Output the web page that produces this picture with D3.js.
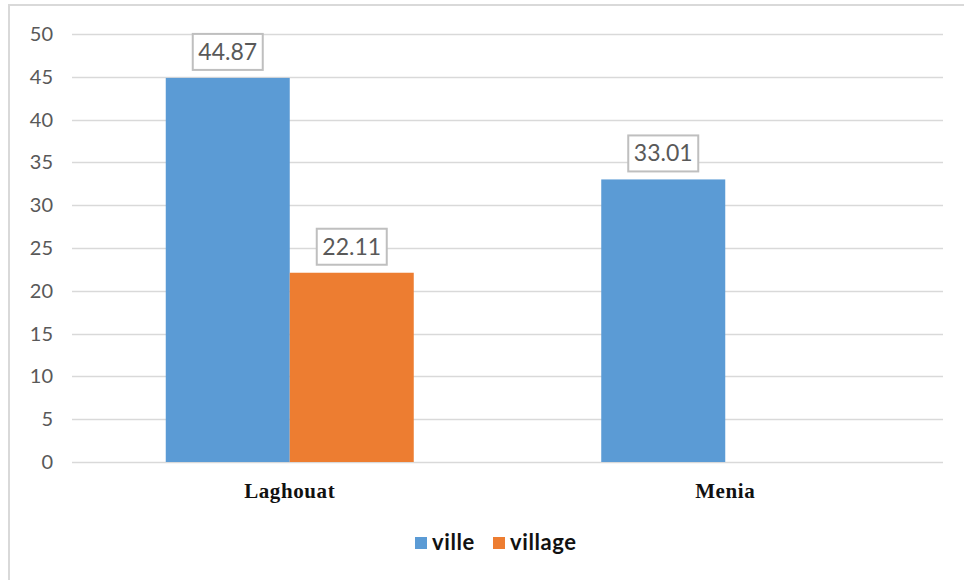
<!DOCTYPE html>
<html>
<head>
<meta charset="utf-8">
<script src="https://cdn.jsdelivr.net/npm/d3@7/dist/d3.min.js"></script>
<style>
  html, body { margin: 0; padding: 0; background: #fff; }
  svg { display: block; }
</style>
</head>
<body>
<svg id="chart" width="964" height="580"></svg>
<script>
// Chart data
const categories = ["Laghouat", "Menia"];
const seriesNames = ["ville", "village"];
const villeValues = [44.87, 33.01];
const villageValues = [22.11, null];
const yTicks = [0, 5, 10, 15, 20, 25, 30, 35, 40, 45, 50];
const seriesColors = ["#5b9bd5", "#ed7d31"];

const svg = d3.select("#chart");
const W = 964, H = 580;
const plot = { left: 72, right: 943, top: 34, bottom: 462 };

// Outer frame (top and left edges visible)
svg.append("path")
  .attr("d", `M9,${H} L9,5 L${W},5`)
  .attr("fill", "none")
  .attr("stroke", "#d9d9d9")
  .attr("stroke-width", 2);

const x0 = d3.scaleBand().domain(categories).range([plot.left, plot.right]).paddingInner(0).paddingOuter(0);
const groupW = 248;
const x1 = d3.scaleBand().domain(seriesNames).range([0, groupW]).padding(0);
const y = d3.scaleLinear().domain([0, 50]).range([plot.bottom, plot.top]);

// Gridlines
svg.append("g")
  .selectAll("line")
  .data(yTicks)
  .join("line")
  .attr("x1", plot.left).attr("x2", plot.right)
  .attr("y1", d => Math.round(y(d)) + 0.5).attr("y2", d => Math.round(y(d)) + 0.5)
  .attr("stroke", "#d9d9d9")
  .attr("stroke-width", 1.3);

// Y axis labels
const yAxis = d3.axisLeft(y).tickValues(yTicks).tickSize(0).tickPadding(0);
const yG = svg.append("g").attr("transform", `translate(53,0)`).call(yAxis);
yG.select(".domain").remove();
yG.selectAll("text")
  .attr("fill", "#595959")
  .style("font-family", "Lato, 'Open Sans', sans-serif")
  .style("font-size", "20px");

// Bars
const rows = categories.map((c, i) => ({
  cat: c,
  vals: [
    { s: "ville", v: villeValues[i], color: seriesColors[0] },
    { s: "village", v: villageValues[i], color: seriesColors[1] }
  ]
}));

const groups = svg.append("g").selectAll("g")
  .data(rows)
  .join("g")
  .attr("transform", d => `translate(${x0(d.cat) + (x0.bandwidth() - groupW) / 2},0)`);

groups.selectAll("rect")
  .data(d => d.vals.filter(v => v.v != null))
  .join("rect")
  .attr("x", d => x1(d.s))
  .attr("width", x1.bandwidth())
  .attr("y", d => y(d.v))
  .attr("height", d => y(0) - y(d.v))
  .attr("fill", d => d.color);

// Value labels in boxes
const labels = groups.selectAll("g.lbl")
  .data(d => d.vals.filter(v => v.v != null))
  .join("g")
  .attr("class", "lbl")
  .attr("transform", d => `translate(${x1(d.s) + x1.bandwidth() / 2},${y(d.v) - 8})`);

labels.append("rect")
  .attr("x", -35).attr("y", -36)
  .attr("width", 70).attr("height", 36)
  .attr("fill", "#fff")
  .attr("stroke", "#bfbfbf")
  .attr("stroke-width", 2);

labels.append("text")
  .attr("x", 0).attr("y", -10)
  .attr("text-anchor", "middle")
  .attr("fill", "#595959")
  .style("font-family", "Lato, 'Open Sans', sans-serif")
  .style("font-size", "23px")
  .text(d => d.v.toFixed(2));

// Category labels
svg.append("g").selectAll("text")
  .data(categories)
  .join("text")
  .attr("x", d => x0(d) + x0.bandwidth() / 2)
  .attr("y", 498)
  .attr("text-anchor", "middle")
  .attr("fill", "#111")
  .style("font-family", "'Liberation Serif', serif")
  .style("font-weight", "bold")
  .style("font-size", "21px")
  .style("letter-spacing", "0.6px")
  .text(d => d);

// Legend
const legendItems = [
  { name: seriesNames[0], color: seriesColors[0], x: 415 },
  { name: seriesNames[1], color: seriesColors[1], x: 493 }
];
const lg = svg.append("g").selectAll("g")
  .data(legendItems)
  .join("g")
  .attr("transform", d => `translate(${d.x},537)`);
lg.append("rect").attr("width", 12).attr("height", 12).attr("fill", d => d.color);
lg.append("text")
  .attr("x", 17).attr("y", 13)
  .attr("fill", "#111")
  .style("font-family", "Lato, 'Open Sans', sans-serif")
  .style("font-weight", "bold")
  .style("font-size", "22px")
  .style("letter-spacing", "0.6px")
  .text(d => d.name);
</script>
</body>
</html>
